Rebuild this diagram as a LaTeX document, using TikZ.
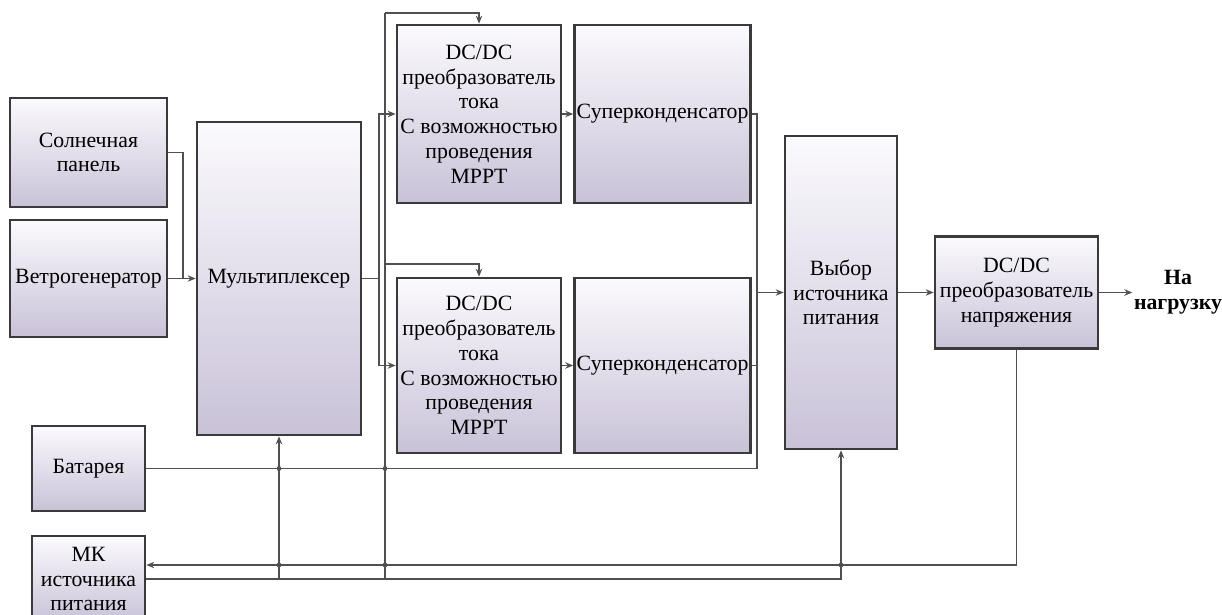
\documentclass[tikz,border=0pt]{standalone}
\usepackage{fontspec}
\setmainfont{Liberation Serif}
\usetikzlibrary{arrows.meta, positioning, calc}
\definecolor{BlockEdge}{HTML}{3A3A3A}
\definecolor{BlockTop}{HTML}{FBFAFD}
\definecolor{BlockBottom}{HTML}{C9C2D8}
\definecolor{WireGray}{HTML}{505050}

\begin{document}
\begin{tikzpicture}[
    x=0.025cm, y=-0.025cm,
    blk/.style={
      rectangle, draw=BlockEdge, line width=1.8pt, top color=BlockTop, bottom color=BlockBottom,
      align=center, inner sep=1pt, font=\fontsize{15.5}{17.6}\selectfont
    },
    wire/.style={line width=1.2pt, draw=WireGray},
    arr/.style={-{Stealth[length=2mm, width=1.6mm]}, line width=1.2pt, draw=WireGray}
  ]
    \useasboundingbox (0,0) rectangle (1222,615);
    \clip (0,0) rectangle (1222,615);

    \node[blk, minimum width=3.925cm, minimum height=2.725cm] (sun) at (88.5,152.5) {Солнечная\\панель};
    \node[blk, minimum width=3.925cm, minimum height=2.925cm] (wind) at (88.5,278.5) {Ветрогенератор};
    \node[blk, minimum width=4.1cm, minimum height=7.825cm] (mux) at (279,278.5) {Мультиплексер};
    \node[blk, minimum width=4.1cm, minimum height=4.45cm] (conv1) at (479,114)
      {DC/DC\\преобразователь\\тока\\С возможностью\\проведения\\MPPT};
    \node[blk, minimum width=4.4cm, minimum height=4.45cm, right=0.275cm of conv1] (cap1) {Суперконденсатор};
    \node[blk, minimum width=4.1cm, minimum height=4.375cm] (conv2) at (479,365.5)
      {DC/DC\\преобразователь\\тока\\С возможностью\\проведения\\MPPT};
    \node[blk, minimum width=4.4cm, minimum height=4.375cm, right=0.275cm of conv2] (cap2) {Суперконденсатор};
    \node[blk, minimum width=2.8cm, minimum height=7.825cm] (select) at (841,292.5) {Выбор\\источника\\питания};
    \node[blk, minimum width=4.075cm, minimum height=2.8cm] (dcv) at (1016.5,292.5)
      {DC/DC\\преобразователь\\напряжения};
    \node[align=center, inner sep=1pt, font=\fontsize{15.5}{17.6}\selectfont\bfseries] (load) at (1178,292.5) {На\\нагрузку};
    \node[blk, minimum width=2.825cm, minimum height=2.125cm] (bat) at (88.5,468.5) {Батарея};
    \node[blk, minimum width=2.825cm, minimum height=2.15cm] (mk) at (88.5,579) {МК\\источника\\питания};

    % sources -> multiplexer
    \coordinate (sunj) at (183,278.5);
    \draw[wire] (sun.east) -| (sunj);
    \draw[arr] (wind.east) -- (mux.west);

    % multiplexer -> converters
    \coordinate (muxbus) at (379,278.5);
    \draw[wire] (mux.east) -- (muxbus);
    \draw[arr] (muxbus) |- (conv1.west);
    \draw[arr] (muxbus) |- (conv2.west);
    \draw[arr] (conv1) -- (cap1);
    \draw[arr] (conv2) -- (cap2);

    % control bus from MK
    \coordinate (ctltop) at (385,13);
    \coordinate (ctlmid) at (385,264);
    \coordinate (ctlbot) at (mk.east -| ctltop);
    \draw[wire] (ctlbot) -- (ctltop);
    \draw[arr] (ctltop) -| (conv1.north);
    \draw[arr] (ctlmid) -| (conv2.north);
    \draw[arr] (mk.east -| mux.south) -- (mux.south);
    \draw[arr] (mk.east) -| (select.south);

    % storage -> source selection -> load
    \coordinate (stor) at (757,292.5);
    \draw[wire] (cap1.east) -| (stor);
    \draw[wire] (cap2.east) -| (stor);
    \draw[wire] (bat.east) -| (stor);
    \draw[arr] (stor) -- (select.west);
    \draw[arr] (select) -- (dcv);
    \draw[arr] (dcv.east) -- (load.west);

    % feedback to MK
    \coordinate (fb) at (1016.5,565);
    \draw[arr] (dcv.south) -- (fb) -- (fb -| mk.east);

    \fill[WireGray] (bat.east -| mux.south) circle (1.7pt) (bat.east -| ctltop) circle (1.7pt)
      (fb -| mux.south) circle (1.7pt) (fb -| ctltop) circle (1.7pt) (fb -| select.south) circle (1.7pt);
  \end{tikzpicture}
\end{document}
